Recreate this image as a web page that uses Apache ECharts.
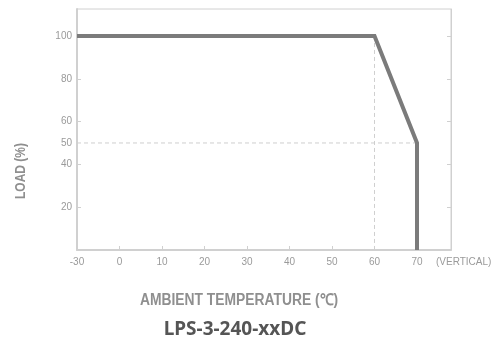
<!DOCTYPE html>
<html>
<head>
<meta charset="utf-8">
<script src="https://cdn.jsdelivr.net/npm/echarts@6/dist/echarts.min.js"></script>
<style>html,body{margin:0;padding:0;background:#fff}#c{width:493px;height:341px}</style>
</head>
<body>
<div id="c"></div>
<script>
// Derating curve (x position -10 is labelled "-30" on the axis)
const curveX = [-10, 60, 70, 70];
const curveY = [100, 100, 50, 0];
const guideV_X = [60, 60];
const guideV_Y = [100, 0];
const guideH_X = [-10, 70];
const guideH_Y = [50, 50];
const xTickValues = [-10, 0, 10, 20, 30, 40, 50, 60, 70];
const xTickLabels = ['-30', '0', '10', '20', '30', '40', '50', '60', '70'];
const yLabelValues = [20, 40, 50, 60, 80, 100];
const yTickValues = [20, 40, 60, 80, 100];
const titleText = 'LPS-3-240-xxDC';
const xName = 'AMBIENT TEMPERATURE (℃)';
const yName = 'LOAD (%)';
const extraXLabel = '(VERTICAL)';

const pairs = (xs, ys) => xs.map((x, i) => [x, ys[i]]);
const labelFont = '"Liberation Sans Narrow","Liberation Sans",Arial,sans-serif';
const axisCol = '#d0d0d0';
const labCol = '#9a9a9a';

const chart = echarts.init(document.getElementById('c'), null, {renderer: 'canvas'});
chart.setOption({
  animation: false,
  grid: {left: 77, top: 9, right: 42, bottom: 91, show: true, borderColor: axisCol, borderWidth: 1},
  xAxis: [{
    type: 'value', min: -10, max: 78,
    axisLine: {onZero: false, lineStyle: {color: axisCol, width: 2}},
    axisTick: {inside: true, length: 4, customValues: xTickValues, lineStyle: {color: axisCol}},
    splitLine: {show: false},
    axisLabel: {
      customValues: xTickValues, margin: 7, color: labCol, fontSize: 10, fontFamily: labelFont,
      formatter: v => xTickLabels[xTickValues.indexOf(v)]
    }
  }],
  yAxis: [{
    type: 'value', min: 0, max: 112.6,
    axisLine: {show: true, onZero: false, lineStyle: {color: axisCol, width: 2}},
    axisTick: {show: true, inside: true, length: 4, customValues: yTickValues, lineStyle: {color: axisCol}},
    splitLine: {show: false},
    axisLabel: {customValues: yLabelValues, margin: 5, color: labCol, fontSize: 10, fontFamily: labelFont}
  }, {
    type: 'value', min: 0, max: 112.6, position: 'right',
    axisLine: {show: true, onZero: false, lineStyle: {color: axisCol, width: 1}},
    axisTick: {show: true, inside: true, length: 4, customValues: yTickValues, lineStyle: {color: axisCol}},
    axisLabel: {show: false},
    splitLine: {show: false}
  }],
  series: [{
    type: 'line', data: pairs(guideV_X, guideV_Y), symbol: 'none', silent: true,
    lineStyle: {color: '#cfcfcf', width: 1, type: [4, 3]}
  }, {
    type: 'line', data: pairs(guideH_X, guideH_Y), symbol: 'none', silent: true,
    lineStyle: {color: '#cfcfcf', width: 1, type: [4, 3]}
  }, {
    type: 'line', data: pairs(curveX, curveY), symbol: 'none',
    lineStyle: {color: '#7b7b7b', width: 4, join: 'miter'}
  }],
  graphic: [{
    type: 'text', x: 436, y: 262,
    style: {text: extraXLabel, fill: labCol, font: '10px ' + labelFont, textVerticalAlign: 'middle'}
  }, {
    type: 'text', x: 21, y: 171, rotation: Math.PI / 2, scaleX: 0.8,
    style: {text: yName, fill: '#8f8f8f', font: 'bold 15px "Liberation Sans",sans-serif', textAlign: 'center', textVerticalAlign: 'middle'}
  }, {
    type: 'text', x: 239, y: 301, scaleX: 0.865,
    style: {text: xName, fill: '#8f8f8f', font: 'bold 16px "Liberation Sans",sans-serif', textAlign: 'center', textVerticalAlign: 'middle'}
  }, {
    type: 'text', x: 235, y: 330,
    style: {text: titleText, fill: '#555', font: 'bold 19px "Noto Sans",sans-serif', textAlign: 'center', textVerticalAlign: 'middle'}
  }]
});
</script>
</body>
</html>
